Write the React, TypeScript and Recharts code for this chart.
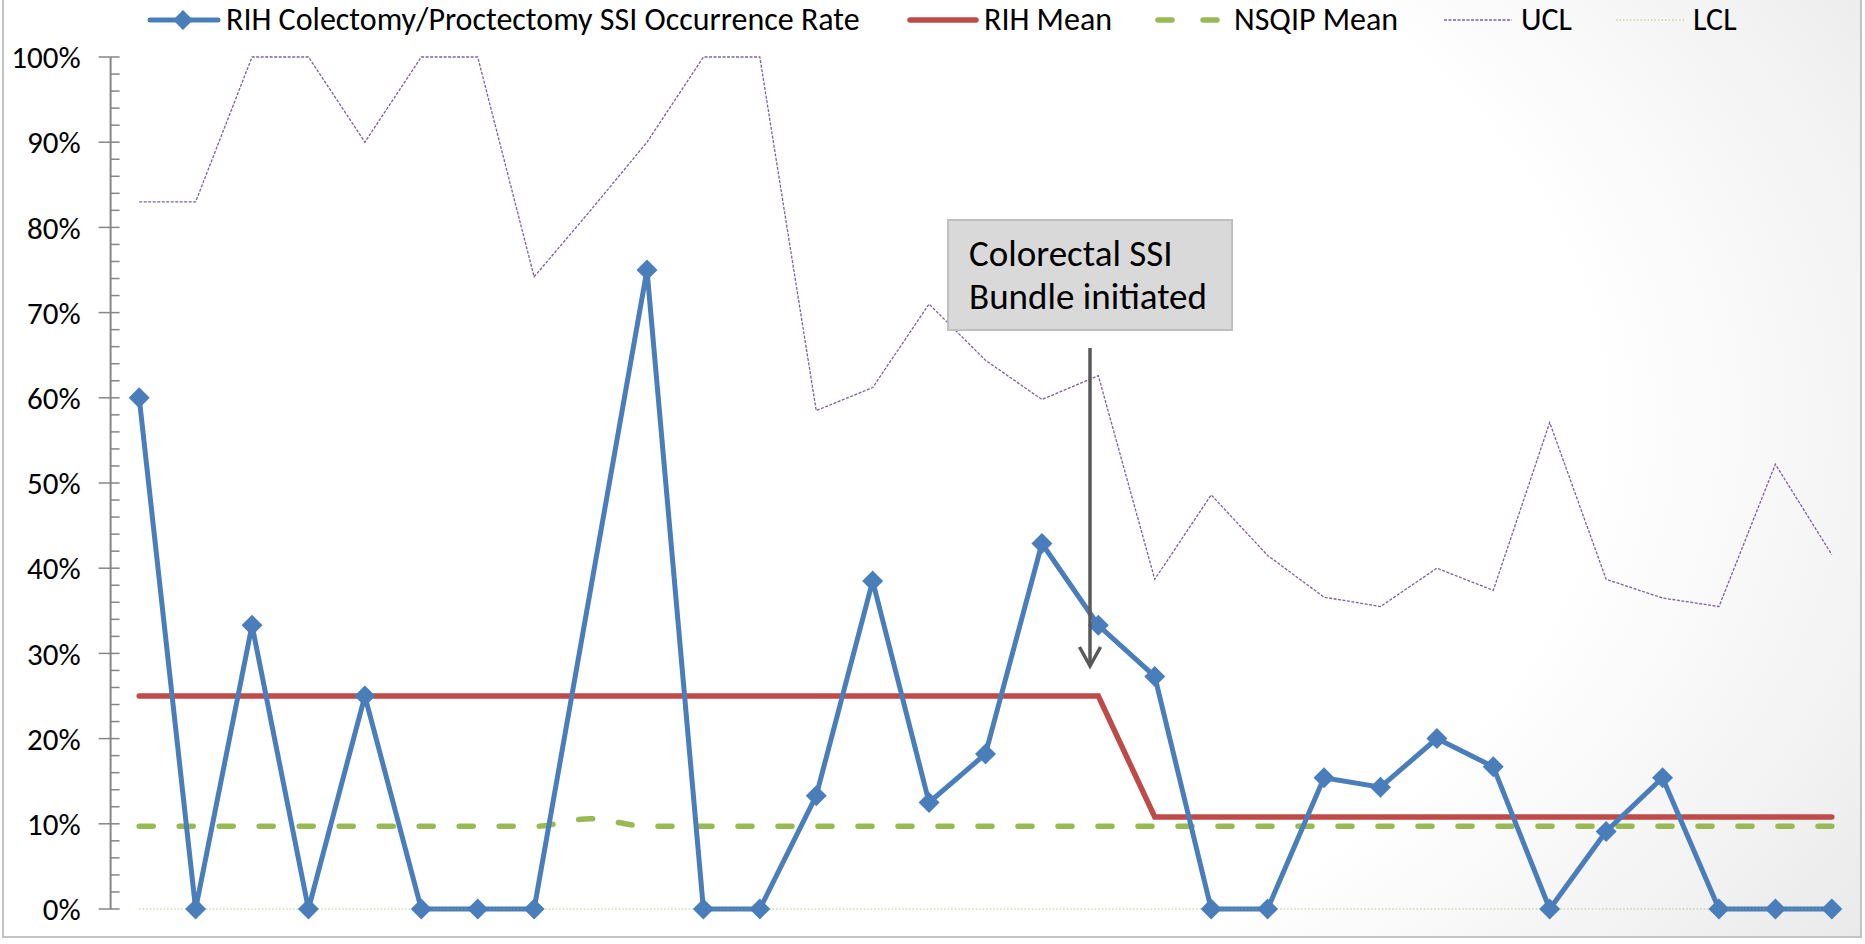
import React from 'react';
import { LineChart, Line, XAxis, YAxis } from 'recharts';

const periods = ['1', '2', '3', '4', '5', '6', '7', '8', '9', '10', '11', '12', '13', '14', '15', '16', '17', '18', '19', '20', '21', '22', '23', '24', '25', '26', '27', '28', '29', '30', '31'];

const ssiRate = [0.6, 0, 0.333, 0, 0.25, 0, 0, 0, null, 0.75, 0, 0, 0.133, 0.385, 0.125, 0.182, 0.429, 0.333, 0.273, 0, 0, 0.154, 0.143, 0.2, 0.167, 0, 0.091, 0.154, 0, 0, 0];

const rihMean = [0.25, 0.25, 0.25, 0.25, 0.25, 0.25, 0.25, 0.25, 0.25, 0.25, 0.25, 0.25, 0.25, 0.25, 0.25, 0.25, 0.25, 0.25, 0.108, 0.108, 0.108, 0.108, 0.108, 0.108, 0.108, 0.108, 0.108, 0.108, 0.108, 0.108, 0.108];

const nsqipMean = [0.097, 0.097, 0.097, 0.097, 0.097, 0.097, 0.097, 0.097, 0.106, 0.097, 0.097, 0.097, 0.097, 0.097, 0.097, 0.097, 0.097, 0.097, 0.097, 0.097, 0.097, 0.097, 0.097, 0.097, 0.097, 0.097, 0.097, 0.097, 0.097, 0.097, 0.097];

const ucl = [0.83, 0.83, 1, 1, 0.9, 1, 1, 0.742, 0.82, 0.9, 1, 1, 0.585, 0.612, 0.71, 0.644, 0.598, 0.626, 0.387, 0.486, 0.415, 0.366, 0.355, 0.4, 0.374, 0.571, 0.387, 0.365, 0.355, 0.522, 0.416];

const lcl = [0, 0, 0, 0, 0, 0, 0, 0, 0, 0, 0, 0, 0, 0, 0, 0, 0, 0, 0, 0, 0, 0, 0, 0, 0, 0, 0, 0, 0, 0, 0];

const yTicks = [0, 0.02, 0.04, 0.06, 0.08, 0.1, 0.12, 0.14, 0.16, 0.18, 0.2, 0.22, 0.24, 0.26, 0.28, 0.3, 0.32, 0.34, 0.36, 0.38, 0.4, 0.42, 0.44, 0.46, 0.48, 0.5, 0.52, 0.54, 0.56, 0.58, 0.6, 0.62, 0.64, 0.66, 0.68, 0.7, 0.72, 0.74, 0.76, 0.78, 0.8, 0.82, 0.84, 0.86, 0.88, 0.9, 0.92, 0.94, 0.96, 0.98, 1];

const seriesNames = {
  ssi: 'RIH Colectomy/Proctectomy SSI Occurrence Rate',
  rih: 'RIH Mean',
  nsqip: 'NSQIP Mean',
  ucl: 'UCL',
  lcl: 'LCL',
};

const annotationLines = ['Colorectal SSI', 'Bundle initiated'];

const data = periods.map((p, i) => ({
  period: p,
  ssi: ssiRate[i],
  rih: rihMean[i],
  nsqip: nsqipMean[i],
  ucl: ucl[i],
  lcl: lcl[i],
}));

const FONT = "Carlito, Calibri, Lato, 'Open Sans', sans-serif";
const BLUE = '#4a7ebb';
const RED = '#be4b48';
const GREEN = '#98b954';
const PURPLE = '#7d60a0';
const AXIS = '#868686';

const YTick = (props: any) => {
  const { x, y, payload } = props;
  const v = payload.value as number;
  const pct = Math.round(v * 100);
  const major = pct % 10 === 0;
  return (
    <g>
      <line x1={major ? x - 12 : x} x2={x + 9} y1={y} y2={y} stroke={AXIS} strokeWidth={1.5} />
      {major && (
        <text x={x - 30} y={y} dy="0.36em" textAnchor="end" fontFamily={FONT} fontSize={31} fill="#000">
          {pct}%
        </text>
      )}
    </g>
  );
};

const Diamond = (props: any) => {
  const { cx, cy, index } = props;
  if (cx == null || cy == null || props.value == null) return <g key={`d${index}`} />;
  const r = 10.5;
  return (
    <path
      key={`d${index}`}
      d={`M${cx},${cy - r}L${cx + r},${cy}L${cx},${cy + r}L${cx - r},${cy}Z`}
      fill={BLUE}
    />
  );
};

const legendText: React.CSSProperties = {
  position: 'absolute',
  top: 1,
  fontFamily: FONT,
  fontSize: 32,
  lineHeight: '38px',
  color: '#000',
  whiteSpace: 'nowrap',
};

const Legend = () => (
  <div style={{ position: 'absolute', left: 0, top: 0, width: 1865, height: 40 }}>
    <svg width={1865} height={40} style={{ position: 'absolute', left: 0, top: 0 }}>
      <line x1={150} x2={218} y1={20} y2={20} stroke={BLUE} strokeWidth={5} strokeLinecap="round" />
      <path d="M183,10L193,20L183,30L173,20Z" fill={BLUE} />
      <line x1={910} x2={976} y1={20} y2={20} stroke={RED} strokeWidth={5.5} strokeLinecap="round" />
      <line x1={1158} x2={1217} y1={20} y2={20} stroke={GREEN} strokeWidth={5.5} strokeLinecap="round" strokeDasharray="14 31" />
      <line x1={1444} x2={1512} y1={20} y2={20} stroke={PURPLE} strokeWidth={1.3} strokeDasharray="3 1.5" />
      <line x1={1616} x2={1685} y1={20} y2={20} stroke={GREEN} strokeWidth={1.2} strokeDasharray="1.5 2" strokeOpacity={0.7} />
    </svg>
    <span style={{ ...legendText, left: 226 }}>{seriesNames.ssi}</span>
    <span style={{ ...legendText, left: 984 }}>{seriesNames.rih}</span>
    <span style={{ ...legendText, left: 1234 }}>{seriesNames.nsqip}</span>
    <span style={{ ...legendText, left: 1521 }}>{seriesNames.ucl}</span>
    <span style={{ ...legendText, left: 1693 }}>{seriesNames.lcl}</span>
  </div>
);

const Annotation = () => (
  <svg width={1865} height={944} style={{ position: 'absolute', left: 0, top: 0, pointerEvents: 'none' }}>
    <rect x={948} y={220} width={284} height={110} fill="#d9d9d9" stroke="#bfbfbf" strokeWidth={2} />
    <text x={969} y={266} fontFamily={FONT} fontSize={37} fill="#000">{annotationLines[0]}</text>
    <text x={969} y={309} fontFamily={FONT} fontSize={37} fill="#000">{annotationLines[1]}</text>
    <line x1={1090} x2={1090} y1={348} y2={665} stroke="#595959" strokeWidth={3.5} />
    <polyline points="1079.5,647 1090,666 1100.5,647" fill="none" stroke="#595959" strokeWidth={3.5} strokeLinejoin="miter" />
  </svg>
);

export default function App() {
  return (
    <div style={{ position: 'fixed', left: 0, top: 0, width: 1865, height: 944, background: '#fff', overflow: 'hidden' }}>
      <div
        style={{
          position: 'absolute',
          left: 2,
          top: 0,
          width: 1856,
          height: 936,
          borderLeft: '2px solid #c3c3c3',
          borderRight: '2px solid #c3c3c3',
          borderBottom: '2px solid #c3c3c3',
          background: 'radial-gradient(ellipse 90% 110% at 30% 45%, #ffffff 0%, #ffffff 62%, #f3f3f3 80%, #e4e4e4 100%)',
        }}
      />
      <div style={{ position: 'absolute', left: 0, top: 0 }}>
        <LineChart width={1865} height={944} data={data} margin={{ top: 57, right: 5, bottom: 35, left: 0 }}>
          <XAxis dataKey="period" hide padding={{ left: 28.6, right: 28.2 }} />
          <YAxis
            domain={[0, 1]}
            ticks={yTicks}
            interval={0}
            width={110.6}
            tickSize={0}
            tickMargin={0}
            tickLine={false}
            axisLine={{ stroke: AXIS, strokeWidth: 2 }}
            tick={<YTick />}
          />
          <Line dataKey="rih" type="linear" stroke={RED} strokeWidth={5.5} dot={false} isAnimationActive={false} strokeLinecap="round" />
          <Line dataKey="nsqip" type="monotone" stroke={GREEN} strokeWidth={5.5} dot={false} isAnimationActive={false} strokeLinecap="round" strokeDasharray="14 26" />
          <Line dataKey="ssi" type="linear" stroke={BLUE} strokeWidth={5} dot={Diamond} connectNulls isAnimationActive={false} />
          <Line dataKey="ucl" type="linear" stroke={PURPLE} strokeWidth={1.3} strokeDasharray="3 1.5" dot={false} isAnimationActive={false} />
          <Line dataKey="lcl" type="linear" stroke={GREEN} strokeOpacity={0.7} strokeWidth={1.2} strokeDasharray="1.5 2" dot={false} isAnimationActive={false} />
        </LineChart>
      </div>
      <Legend />
      <Annotation />
    </div>
  );
}
